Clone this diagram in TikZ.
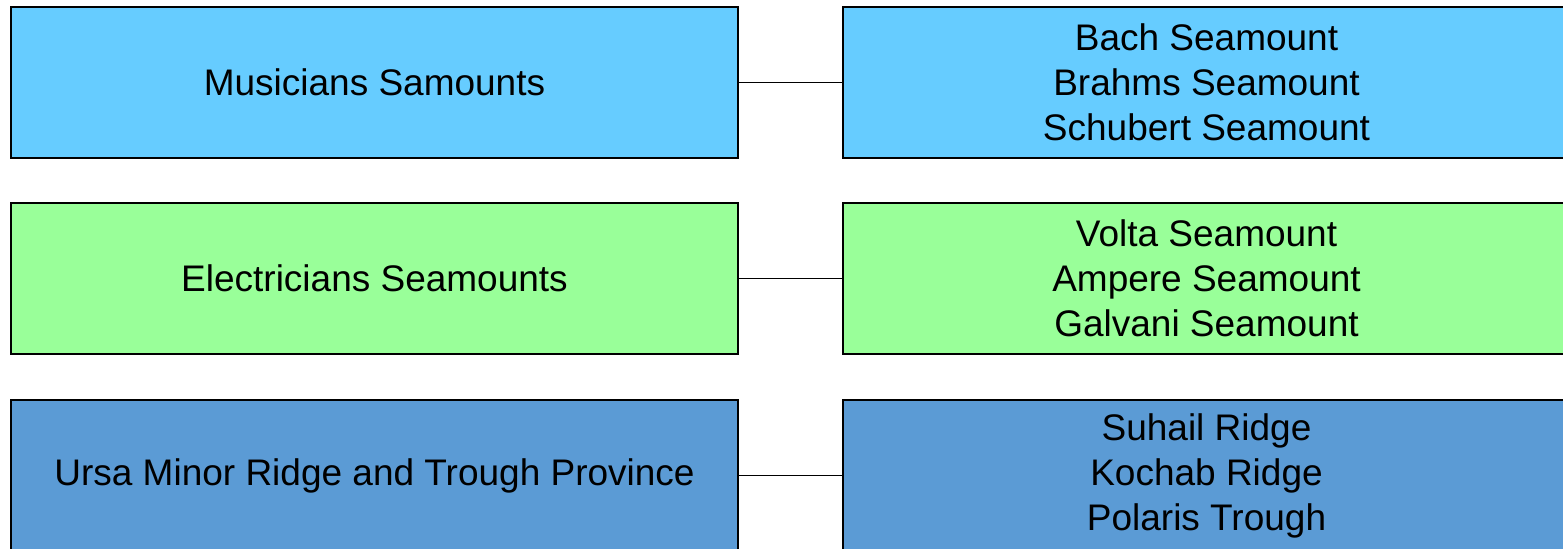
\documentclass[tikz,border=0pt]{standalone}
\usepackage{fontspec}
\setmainfont{Liberation Sans}
\usetikzlibrary{positioning, shadows}

\definecolor{skyfill}{HTML}{66CCFF}
\definecolor{mintfill}{HTML}{99FF99}
\definecolor{steelfill}{HTML}{5B9BD5}

\begin{document}
\begin{tikzpicture}[
    x=0.5pt, y=-0.5pt,
    font=\fontsize{18.5pt}{22.5pt}\selectfont,
    groupbox/.style={
        rectangle, draw=black, line width=0.7pt, align=center,
        minimum width=363.5pt, minimum height=75.5pt, inner sep=0pt,
        drop shadow={shadow xshift=0.6pt, shadow yshift=-0.6pt,
            fill=black!45, opacity=1},
        fill=#1
    },
    link/.style={draw=black, line width=0.6pt}
]
\useasboundingbox (0,0) rectangle (1563,548);
\clip (0,0) rectangle (1563,548);

% Group names on the left
\node[groupbox=skyfill] (musicians) at (374.5, 82.5)
    {Musicians Samounts};
\node[groupbox=mintfill] (electricians) at (374.5, 278.5)
    {Electricians Seamounts};
\node[groupbox=steelfill] (ursa) at (374.5, 475.5)
    {Ursa Minor Ridge and Trough Province};

% Members of each group on the right
\node[groupbox=skyfill] (musiciansList) at (1206.5, 82.5)
    {Bach Seamount\\Brahms Seamount\\Schubert Seamount};
\node[groupbox=mintfill] (electriciansList) at (1206.5, 278.5)
    {Volta Seamount\\Ampere Seamount\\Galvani Seamount};
\node[groupbox=steelfill] (ursaList) at (1206.5, 475.5)
    {Suhail Ridge\\Kochab Ridge\\Polaris Trough};

% Each group is tied to its members
\draw[link] (musicians.east) -- (musiciansList.west);
\draw[link] (electricians.east) -- (electriciansList.west);
\draw[link] (ursa.east) -- (ursaList.west);

\end{tikzpicture}
\end{document}
